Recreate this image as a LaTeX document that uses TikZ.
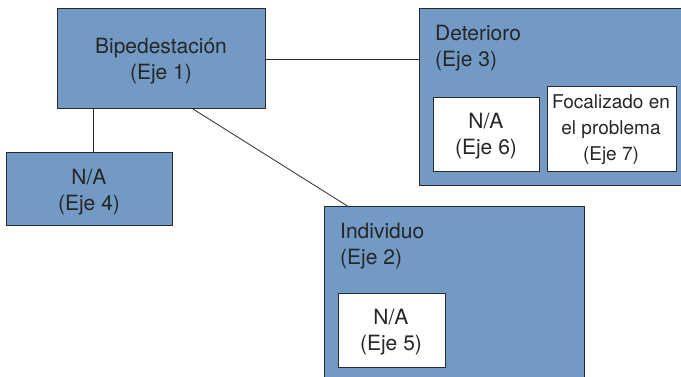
\documentclass[tikz,border=0pt]{standalone}
\usepackage{fontspec}
\setmainfont{TeX Gyre Heros}
\definecolor{boxblue}{HTML}{729AC4}
\definecolor{edge}{HTML}{2A2A2A}
\begin{document}
\begin{tikzpicture}[x=1pt,y=-1pt,
  bluebox/.style={draw=edge,line width=1pt,fill=boxblue,minimum width=#1,inner sep=0pt,outer sep=0pt,anchor=north west},
  whitebox/.style={draw=edge,line width=1pt,fill=white,inner sep=0pt,outer sep=0pt,anchor=north west},
  lbl/.style={font=\fontsize{21}{26.5}\selectfont,text=black!85,inner sep=0pt,align=center},
  lbll/.style={font=\fontsize{21}{26.5}\selectfont,text=black!85,inner sep=0pt,align=left,anchor=west},
  conn/.style={draw=edge,line width=0.8pt}]
\useasboundingbox (0,0) rectangle (681,377);
% boxes
\node[bluebox=208pt,minimum height=100pt] (b1) at (57,9) {};
\node[bluebox=166pt,minimum height=73pt] (b4) at (6,153) {};
\node[bluebox=266pt,minimum height=177pt] (b3) at (419,9) {};
\node[bluebox=260pt,minimum height=172pt] (b2) at (324,207) {};
\node[whitebox,minimum width=106pt,minimum height=74pt] (b6) at (433,98) {};
\node[whitebox,minimum width=129pt,minimum height=85pt] (b7) at (547,87) {};
\node[whitebox,minimum width=107pt,minimum height=73pt] (b5) at (338,294) {};
% labels
\node[lbl] (t1) at (161,61) {Bipedestación\\(Eje 1)};
\node[lbl] (t4) at (89,192) {N/A\\(Eje 4)};
\node[lbll] (t3) at (435,48) {Deterioro\\(Eje 3)};
\node[lbll] (t2) at (340,246) {Individuo\\(Eje 2)};
\node[lbl] (t6) at (486,136) {N/A\\(Eje 6)};
\node[lbl,font=\fontsize{19}{26}\selectfont] (t7) at (611,130) {Focalizado en\\el problema\\(Eje 7)};
\node[lbl] (t5) at (391,332) {N/A\\(Eje 5)};
% connectors
\draw[conn] ([xshift=36pt]b1.south west) -- ([xshift=36pt]b1.south west |- b4.north);
\draw[conn] ([xshift=136pt]b1.south west) -- ([xshift=25pt]b2.north west);
\draw[conn] (b1.east) -- (b1.east -| b3.west);
\end{tikzpicture}
\end{document}
